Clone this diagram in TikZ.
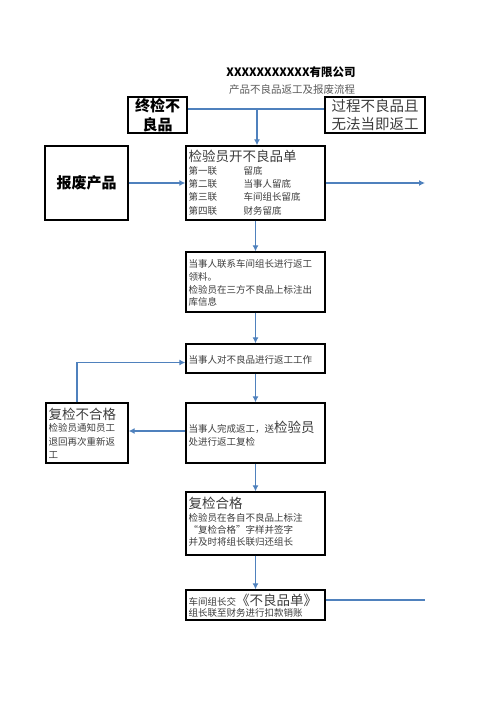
\documentclass[tikz,border=0pt]{standalone}
\usepackage{fontspec}
\setmainfont{Noto Sans CJK SC}
\usetikzlibrary{arrows.meta}
\usetikzlibrary{positioning}
\definecolor{flowblue}{RGB}{79,129,189}
\definecolor{txtgray}{RGB}{60,60,60}
\newcommand{\bigtxt}{\fontsize{13.5}{16}\selectfont}
\newcommand{\smalltxt}{\fontsize{9.5}{12.8}\selectfont}
\tikzset{
  box/.style={draw, line width=1.3pt, inner sep=0pt, minimum width=139pt},
  flow/.style={draw=flowblue, line width=1.7pt, -{Latex[length=6pt,width=6pt]}},
  flat/.style={draw=flowblue, line width=1.7pt},
  body/.style={inner sep=0pt, align=left, text=txtgray, font=\smalltxt},
  heavy/.style={font=\fontsize{15}{19}\selectfont\bfseries, align=center}
}

\begin{document}
\begin{tikzpicture}[x=1pt, y=-1pt]
  \useasboundingbox (0,0) rectangle (496,702);

  % title
  \node[font=\fontsize{11.5}{13}\selectfont\bfseries] (title) at (291,72) {XXXXXXXXXXX有限公司};
  \node[font=\fontsize{10.5}{12}\selectfont, text=txtgray!85] (subtitle) at (292,89) {产品不良品返工及报废流程};

  % top row
  \node[box, heavy, minimum width=59pt, minimum height=36pt] (zj) at (157.5,115) {终检不\\良品};
  \node[box, minimum width=100pt, minimum height=36pt, align=center,
        font=\fontsize{14.5}{18}\selectfont, text=txtgray] (gc) at (375,115) {过程不良品且\\无法当即返工};

  % boxes
  \node[box, heavy, minimum width=83pt, minimum height=74pt] (bf) at (86.5,183) {报废产品};
  \node[box, minimum height=74pt] (kd) at (255.5,183) {};
  \node[box, minimum height=60pt] (lx) at (255.5,282) {};
  \node[box, minimum height=29pt] (fg) at (255.5,358.5) {};
  \node[box, minimum height=60pt] (wc) at (255.5,433) {};
  \node[box, minimum width=82pt, minimum height=60pt] (bh) at (87,433) {};
  \node[box, minimum height=63pt] (hg) at (255.5,523.5) {};
  \node[box, minimum height=30pt] (cw) at (255.5,605) {};

  % texts in boxes
  \node[body, anchor=north west] (kdtxt) at ([xshift=3pt,yshift=-4pt]kd.north west)
    {{\bigtxt 检验员开不良品单}\\[0.5pt]
     \makebox[55pt][l]{第一联}留底\\[0.5pt]
     \makebox[55pt][l]{第二联}当事人留底\\[0.5pt]
     \makebox[55pt][l]{第三联}车间组长留底\\[0.5pt]
     \makebox[55pt][l]{第四联}财务留底};
  \node[body, anchor=north west] (lxtxt) at ([xshift=3pt,yshift=-8pt]lx.north west)
    {当事人联系车间组长进行返工\\领料。\\检验员在三方不良品上标注出\\库信息};
  \node[body, anchor=west] (fgtxt) at ([xshift=3pt,yshift=-1pt]fg.west)
    {当事人对不良品进行返工工作};
  \node[body, anchor=west] (wctxt) at ([xshift=3pt,yshift=-1pt]wc.west)
    {当事人完成返工，送{\bigtxt 检验员}\\处进行返工复检};
  \node[body, anchor=north west] (bhtxt) at ([xshift=3pt,yshift=-6pt]bh.north west)
    {{\bigtxt 复检不合格}\\[-1pt]检验员通知员工\\[0.5pt]退回再次重新返\\[0.5pt]工};
  \node[body, anchor=north west] (hgtxt) at ([xshift=3pt,yshift=-6pt]hg.north west)
    {{\bigtxt 复检合格}\\[0pt]检验员在各自不良品上标注\\[-1pt]“复检合格”字样并签字\\[-1pt]并及时将组长联归还组长};
  \node[body, anchor=west] (cwtxt) at ([xshift=3pt,yshift=-1pt]cw.west)
    {车间组长交{\bigtxt 《不良品单》}\\[-1.5pt]组长联至财务进行扣款销账};

  % connectors
  \coordinate (jn) at (257,109);
  \coordinate (kdout) at (425,183);
  \coordinate (cwout) at (425,600);
  \draw[flat] (zj.east |- jn) -- (gc.west |- jn);
  \draw[flow] (jn) -- (jn |- kd.north);
  \draw[flow] (bf.east) -- (kd.west);
  \draw[flow] (kd.east) -- (kdout);
  \draw[flow] (kd.south) -- (lx.north);
  \draw[flow] (lx.south) -- (fg.north);
  \draw[flow] (fg.south) -- (wc.north);
  \draw[flow] ([yshift=2pt]wc.west) -- ([yshift=2pt]bh.east);
  \draw[flow] ([xshift=-10pt]bh.north) |- ([yshift=-4pt]fg.west);
  \draw[flow] (wc.south) -- (hg.north);
  \draw[flow] (hg.south) -- (cw.north);
  \draw[flat] (cw.east |- cwout) -- (cwout);
\end{tikzpicture}
\end{document}
